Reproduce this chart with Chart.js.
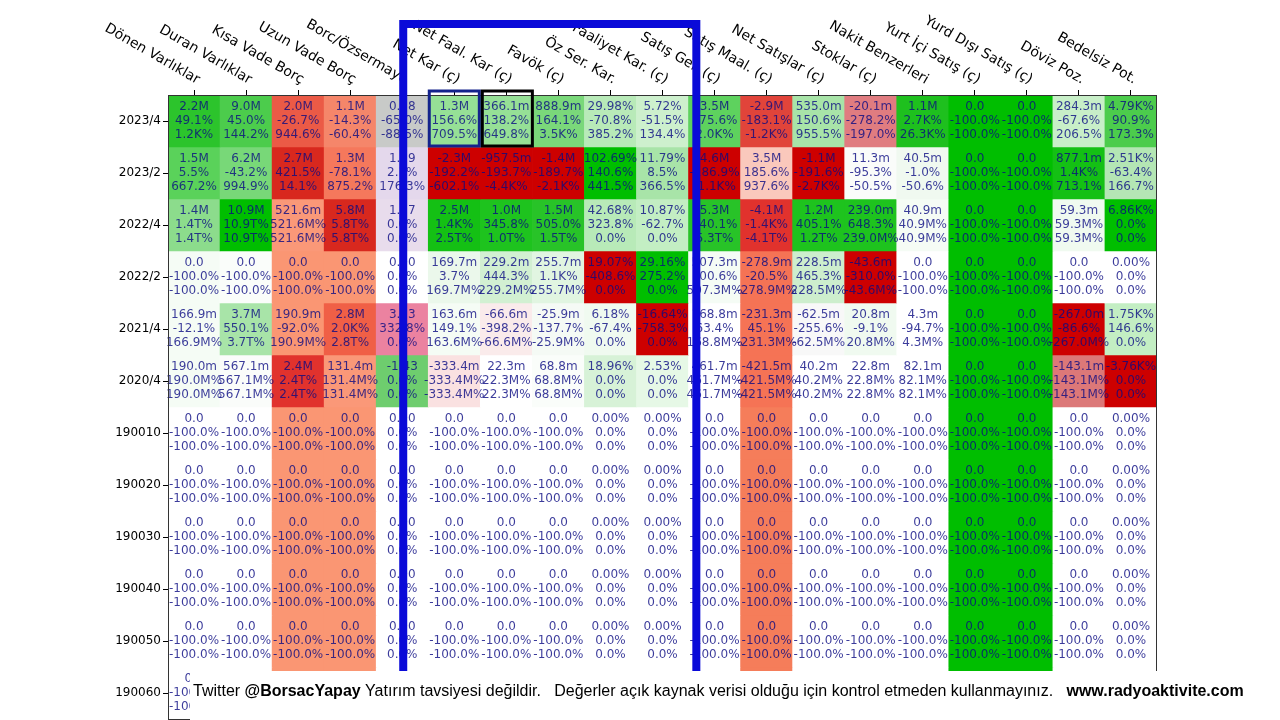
<!DOCTYPE html>
<html>
<head>
<meta charset="utf-8">
<script src="https://cdn.jsdelivr.net/npm/chart.js@4.4.0/dist/chart.umd.min.js"></script>
<style>
  html, body { margin: 0; padding: 0; background: #fff; }
  #wrap { width: 1280px; height: 720px; position: relative; }
</style>
</head>
<body>
<div id="wrap"><canvas id="heat"></canvas></div>
<script>
const rowLabels = ["2023/4", "2023/2", "2022/4", "2022/2", "2021/4", "2020/4",
    "190010", "190020", "190030", "190040", "190050", "190060"];

const colLabels = ["Dönen Varlıklar", "Duran Varlıklar", "Kısa Vade Borç", "Uzun Vade Borç",
    "Borc/Özsermaye", "Net Kar (ç)", "Net Faal. Kar (ç)", "Favök (ç)", "Öz Ser. Kar.",
    "Faaliyet Kar. (ç)", "Satış Gel. (ç)", "Satış Maal. (ç)", "Net Satışlar (ç)", "Stoklar (ç)",
    "Nakit Benzerleri", "Yurt İçi Satış (ç)", "Yurd Dışı Satış (ç)", "Döviz Poz.", "Bedelsiz Pot."];

// empty periods all read the same
const emptyVal = ["0.0", "0.0", "0.0", "0.0", "0.00", "0.0", "0.0", "0.0", "0.00%", "0.00%",
    "0.0", "0.0", "0.0", "0.0", "0.0", "0.0", "0.0", "0.0", "0.00%"];
const emptyChg = ["-100.0%", "-100.0%", "-100.0%", "-100.0%", "0.0%", "-100.0%", "-100.0%", "-100.0%", "0.0%", "0.0%",
    "-100.0%", "-100.0%", "-100.0%", "-100.0%", "-100.0%", "-100.0%", "-100.0%", "-100.0%", "0.0%"];

// first line of each cell
const valText = [
    ["2.2M", "9.0M", "2.0M", "1.1M", "0.28", "1.3M", "366.1m", "888.9m", "29.98%", "5.72%", "3.5M", "-2.9M", "535.0m", "-20.1m", "1.1M", "0.0", "0.0", "284.3m", "4.79K%"],
    ["1.5M", "6.2M", "2.7M", "1.3M", "1.39", "-2.3M", "-957.5m", "-1.4M", "102.69%", "11.79%", "4.6M", "3.5M", "-1.1M", "11.3m", "40.5m", "0.0", "0.0", "877.1m", "2.51K%"],
    ["1.4M", "10.9M", "521.6m", "5.8M", "1.17", "2.5M", "1.0M", "1.5M", "42.68%", "10.87%", "5.3M", "-4.1M", "1.2M", "239.0m", "40.9m", "0.0", "0.0", "59.3m", "6.86K%"],
    ["0.0", "0.0", "0.0", "0.0", "0.00", "169.7m", "229.2m", "255.7m", "19.07%", "29.16%", "507.3m", "-278.9m", "228.5m", "-43.6m", "0.0", "0.0", "0.0", "0.0", "0.00%"],
    ["166.9m", "3.7M", "190.9m", "2.8M", "3.33", "163.6m", "-66.6m", "-25.9m", "6.18%", "-16.64%", "168.8m", "-231.3m", "-62.5m", "20.8m", "4.3m", "0.0", "0.0", "-267.0m", "1.75K%"],
    ["190.0m", "567.1m", "2.4M", "131.4m", "-1.43", "-333.4m", "22.3m", "68.8m", "18.96%", "2.53%", "461.7m", "-421.5m", "40.2m", "22.8m", "82.1m", "0.0", "0.0", "-143.1m", "-3.76K%"],
    emptyVal, emptyVal, emptyVal, emptyVal, emptyVal, emptyVal
];

// second line
const chgQ = [
    ["49.1%", "45.0%", "-26.7%", "-14.3%", "-65.0%", "156.6%", "138.2%", "164.1%", "-70.8%", "-51.5%", "175.6%", "-183.1%", "150.6%", "-278.2%", "2.7K%", "-100.0%", "-100.0%", "-67.6%", "90.9%"],
    ["5.5%", "-43.2%", "421.5%", "-78.1%", "2.1%", "-192.2%", "-193.7%", "-189.7%", "140.6%", "8.5%", "-186.9%", "185.6%", "-191.6%", "-95.3%", "-1.0%", "-100.0%", "-100.0%", "1.4K%", "-63.4%"],
    ["1.4T%", "10.9T%", "521.6M%", "5.8T%", "0.0%", "1.4K%", "345.8%", "505.0%", "323.8%", "-62.7%", "140.1%", "-1.4K%", "405.1%", "648.3%", "40.9M%", "-100.0%", "-100.0%", "59.3M%", "0.0%"],
    ["-100.0%", "-100.0%", "-100.0%", "-100.0%", "0.0%", "3.7%", "444.3%", "1.1K%", "-408.6%", "275.2%", "100.6%", "-20.5%", "465.3%", "-310.0%", "-100.0%", "-100.0%", "-100.0%", "-100.0%", "0.0%"],
    ["-12.1%", "550.1%", "-92.0%", "2.0K%", "332.8%", "149.1%", "-398.2%", "-137.7%", "-67.4%", "-758.3%", "63.4%", "45.1%", "-255.6%", "-9.1%", "-94.7%", "-100.0%", "-100.0%", "-86.6%", "146.6%"],
    ["190.0M%", "567.1M%", "2.4T%", "131.4M%", "0.0%", "-333.4M%", "22.3M%", "68.8M%", "0.0%", "0.0%", "461.7M%", "-421.5M%", "40.2M%", "22.8M%", "82.1M%", "-100.0%", "-100.0%", "-143.1M%", "0.0%"],
    emptyChg, emptyChg, emptyChg, emptyChg, emptyChg, emptyChg
];

// third line
const chgY = [
    ["1.2K%", "144.2%", "944.6%", "-60.4%", "-88.5%", "709.5%", "649.8%", "3.5K%", "385.2%", "134.4%", "2.0K%", "-1.2K%", "955.5%", "-197.0%", "26.3K%", "-100.0%", "-100.0%", "206.5%", "173.3%"],
    ["667.2%", "994.9%", "14.1%", "875.2%", "176.3%", "-602.1%", "-4.4K%", "-2.1K%", "441.5%", "366.5%", "-1.1K%", "937.6%", "-2.7K%", "-50.5%", "-50.6%", "-100.0%", "-100.0%", "713.1%", "166.7%"],
    ["1.4T%", "10.9T%", "521.6M%", "5.8T%", "0.0%", "2.5T%", "1.0T%", "1.5T%", "0.0%", "0.0%", "5.3T%", "-4.1T%", "1.2T%", "239.0M%", "40.9M%", "-100.0%", "-100.0%", "59.3M%", "0.0%"],
    ["-100.0%", "-100.0%", "-100.0%", "-100.0%", "0.0%", "169.7M%", "229.2M%", "255.7M%", "0.0%", "0.0%", "507.3M%", "-278.9M%", "228.5M%", "-43.6M%", "-100.0%", "-100.0%", "-100.0%", "-100.0%", "0.0%"],
    ["166.9M%", "3.7T%", "190.9M%", "2.8T%", "0.0%", "163.6M%", "-66.6M%", "-25.9M%", "0.0%", "0.0%", "168.8M%", "-231.3M%", "-62.5M%", "20.8M%", "4.3M%", "-100.0%", "-100.0%", "-267.0M%", "0.0%"],
    ["190.0M%", "567.1M%", "2.4T%", "131.4M%", "0.0%", "-333.4M%", "22.3M%", "68.8M%", "0.0%", "0.0%", "461.7M%", "-421.5M%", "40.2M%", "22.8M%", "82.1M%", "-100.0%", "-100.0%", "-143.1M%", "0.0%"],
    emptyChg, emptyChg, emptyChg, emptyChg, emptyChg, emptyChg
];

// cell fill colours, same layout as the text
const G = "#00be00", R = "#cd0000", W = "#ffffff", S = "#fa9673", O = "#f57355";
const emptyShade = [W, W, S, S, W, W, W, W, W, W, W, "#f57d5a", W, W, W, G, G, W, W];
const shades = [
    ["#2cc42c", "#4ccc4c", "#eb5a46", "#f5866a", "#c8cac8", "#96e096", "#96e096", "#7ad87a", "#b8eab8", "#cdf0cd", "#5ed25e", "#e1443a", "#a8e4a8", "#e07c80", "#1ec01e", G, G, "#c8efc8", "#4ccc4c"],
    ["#5ad25a", "#78d878", "#d8281e", "#f5785c", "#e4d8ec", R, R, R, G, "#a8e4a8", R, "#fac8bc", R, "#fafcfa", "#f0f9f0", G, G, "#14c014", "#b4e6b4"],
    ["#8cdc8c", G, "#fa9878", "#d8281e", "#e8dcec", "#14c014", "#1ec31e", "#28c328", "#b8eab8", "#c3eec3", "#28c328", "#e1322d", "#1ec31e", "#1ec31e", "#f5fcf5", G, G, "#f0faf0", G],
    ["#f5fcf5", "#fafdfa", S, S, W, "#ebf8eb", "#d2f0d2", "#e1f5e1", R, G, "#f5fcf5", O, "#cdeecd", R, W, G, G, W, W],
    ["#f5fcf5", "#a8e4a8", S, "#f05f46", "#eb82a0", "#f5fcf5", "#faebeb", "#f5faf5", "#f0faf0", R, W, O, "#f8f8f8", "#f0faf0", W, G, G, R, "#c3eec3"],
    ["#f5fcf5", "#fafcfa", "#e1322d", "#fa9878", "#6ecd6e", "#fae1e1", W, "#fafdfa", "#d7f2d7", "#e6f8e6", W, O, W, W, W, G, G, "#dc7878", R],
    emptyShade, emptyShade, emptyShade, emptyShade, emptyShade, emptyShade
];

const footerParts = [
    ["Twitter ", false], ["@BorsacYapay", true], [" Yatırım tavsiyesi değildir.   ", false],
    ["Değerler açık kaynak verisi olduğu için kontrol etmeden kullanmayınız.   ", false],
    ["www.radyoaktivite.com", true]
];

// one floating bar per cell, one dataset per period row
let datasets = rowLabels.map((r, ri) => ({
    label: r,
    data: colLabels.map(() => [ri - 0.5, ri + 0.5]),
    backgroundColor: shades[ri],
    borderWidth: 0,
    grouped: false,
    barPercentage: 1,
    categoryPercentage: 1
}));

const cellText = {
    id: "cellText",
    afterDatasetsDraw(chart) {
        const { ctx, chartArea, scales: { x, y } } = chart;
        ctx.save();

        // numbers inside the cells
        ctx.font = '12px "DejaVu Sans"';
        ctx.textAlign = "center";
        ctx.textBaseline = "middle";
        ctx.fillStyle = "rgba(10,10,130,0.8)";
        rowLabels.forEach((r, ri) => {
            colLabels.forEach((c, ci) => {
                let cx = x.getPixelForValue(ci);
                let cy = y.getPixelForValue(ri);
                ctx.fillText(valText[ri][ci], cx, cy - 14);
                ctx.fillText(chgQ[ri][ci], cx, cy);
                ctx.fillText(chgY[ri][ci], cx, cy + 14);
            });
        });

        // frame
        ctx.strokeStyle = "#333";
        ctx.lineWidth = 1;
        ctx.strokeRect(chartArea.left + 0.5, chartArea.top + 0.5, chartArea.width - 1, chartArea.height);

        // rotated column names
        ctx.fillStyle = "#000";
        ctx.font = '14px "DejaVu Sans"';
        ctx.textAlign = "right";
        ctx.textBaseline = "bottom";
        colLabels.forEach((c, ci) => {
            ctx.save();
            ctx.translate(x.getPixelForValue(ci) + 1, chartArea.top - 8);
            ctx.rotate(30 * Math.PI / 180);
            ctx.fillText(c, 0, 0);
            ctx.restore();
        });

        // highlight boxes on the latest period
        let half = (x.getPixelForValue(1) - x.getPixelForValue(0)) / 2;
        let rowTop = y.getPixelForValue(-0.5), rowBot = y.getPixelForValue(0.5);
        ctx.lineWidth = 3;
        ctx.strokeStyle = "#14238c";
        ctx.strokeRect(x.getPixelForValue(5) - half + 1, rowTop - 4, half * 2 - 2, rowBot - rowTop + 3);
        ctx.strokeStyle = "#000";
        ctx.strokeRect(x.getPixelForValue(6) - half + 2, rowTop - 4, half * 2 - 2, rowBot - rowTop + 3);

        // big blue bracket
        let bx1 = x.getPixelForValue(4) + 1;
        let bx2 = x.getPixelForValue(9.65);
        ctx.strokeStyle = "#0a0ad8";
        ctx.lineWidth = 8;
        ctx.beginPath();
        ctx.moveTo(bx1, 672);
        ctx.lineTo(bx1, 24);
        ctx.lineTo(bx2, 24);
        ctx.lineTo(bx2, 672);
        ctx.stroke();

        ctx.restore();
    },
    afterDraw(chart) {
        const { ctx } = chart;
        ctx.save();
        ctx.fillStyle = "#fff";
        ctx.fillRect(190, 671, 1056, 49);
        ctx.fillStyle = "#000";
        ctx.textBaseline = "alphabetic";
        ctx.textAlign = "left";
        let px = 193;
        footerParts.forEach(([txt, bold]) => {
            ctx.font = (bold ? "bold " : "") + '16px "Liberation Sans"';
            ctx.fillText(txt, px, 696);
            px += ctx.measureText(txt).width;
        });
        ctx.restore();
    }
};

let heatChart = new Chart(document.getElementById("heat").getContext("2d"), {
    type: "bar",
    data: { labels: colLabels, datasets: datasets },
    options: {
        responsive: true,
        maintainAspectRatio: false,
        animation: false,
        layout: { padding: { left: 0, right: 123, top: 0, bottom: 1 } },
        plugins: { legend: { display: false }, tooltip: { enabled: false } },
        scales: {
            x: {
                type: "category",
                position: "top",
                offset: true,
                grid: { drawOnChartArea: false, offset: false, tickLength: 5, color: "#000" },
                border: { display: false },
                ticks: { color: "transparent", autoSkip: false, maxRotation: 0, font: { size: 1 } },
                afterFit: s => { s.height = 95; s.paddingLeft = 0; s.paddingRight = 0; }
            },
            y: {
                type: "linear",
                reverse: true,
                min: -0.5,
                max: 11.5,
                afterBuildTicks: s => { s.ticks = rowLabels.map((r, i) => ({ value: i })); },
                grid: { drawOnChartArea: false, tickLength: 5, color: "#000" },
                border: { display: false },
                ticks: {
                    color: "#000",
                    padding: 2,
                    font: { family: "DejaVu Sans", size: 12 },
                    callback: (v, i) => rowLabels[i]
                },
                afterFit: s => { s.width = 168; s.paddingTop = 0; s.paddingBottom = 0; }
            }
        }
    },
    plugins: [cellText]
});
</script>
</body>
</html>
